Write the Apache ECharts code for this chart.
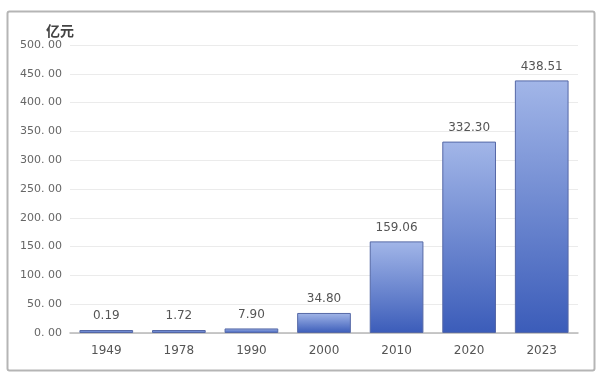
<!DOCTYPE html>
<html><head><meta charset="utf-8">
<script src="https://cdn.jsdelivr.net/npm/echarts@6/dist/echarts.min.js"></script>
<style>html,body{margin:0;padding:0;background:#fff}#c{width:600px;height:379px}</style>
</head><body><div id="c"></div>
<script>
const categories = ['1949','1978','1990','2000','2010','2020','2023'];
const values = [0.19, 1.72, 7.90, 34.80, 159.06, 332.30, 438.51];
const yTicks = [0, 50, 100, 150, 200, 250, 300, 350, 400, 450, 500];

const chart = echarts.init(document.getElementById('c'));
chart.setOption({
  animation: false,
  backgroundColor: '#fff',
  graphic: [{
    type: 'rect', left: 5, top: 9, shape: { width: 587, height: 359, r: 2 },
    style: { fill: 'none', stroke: '#b5b5b5', lineWidth: 2 }, silent: true
  }],
  grid: { left: 70, right: 22, top: 45, bottom: 46 },
  xAxis: {
    type: 'category', data: categories,
    axisLine: { lineStyle: { color: '#b8b8b8', width: 1.5 } },
    axisTick: { show: false },
    axisLabel: { color: '#555', fontSize: 12, margin: 12, fontFamily: 'DejaVu Sans' }
  },
  yAxis: {
    type: 'value', min: yTicks[0], max: yTicks[yTicks.length - 1], interval: 50,
    name: '亿元', nameLocation: 'end', nameGap: 7,
    nameTextStyle: { color: '#444', fontSize: 14, fontWeight: 'bold', align: 'right', padding: [0, -4, 0, 0], fontFamily: 'Noto Sans CJK SC' },
    axisLine: { show: false }, axisTick: { show: false },
    splitLine: { lineStyle: { color: '#ebebeb', width: 1 } },
    axisLabel: { color: '#666', fontSize: 11, margin: 8, fontFamily: 'DejaVu Sans',
      formatter: v => v.toFixed(2).replace('.', '. ') }
  },
  series: [{
    type: 'bar', data: values, barWidth: '74%', barMinHeight: 3,
    itemStyle: {
      color: new echarts.graphic.LinearGradient(0, 0, 0, 1, [
        { offset: 0, color: '#a2b6e8' },
        { offset: 1, color: '#3b5cb9' }
      ]),
      borderColor: '#5568a6', borderWidth: 1
    },
    label: { show: true, position: 'top', distance: 8, color: '#555', fontSize: 12,
      fontFamily: 'DejaVu Sans', formatter: p => p.value.toFixed(2) }
  }]
});
</script></body></html>
